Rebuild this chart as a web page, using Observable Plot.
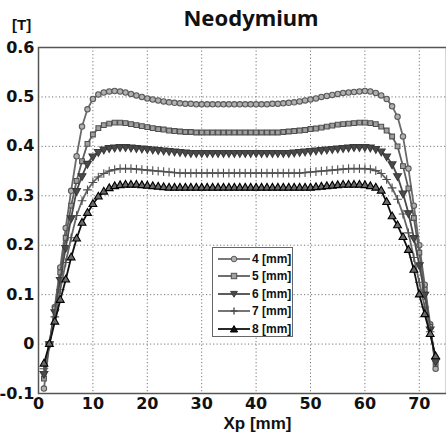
<!DOCTYPE html>
<html><head><meta charset="utf-8">
<script src="https://cdn.jsdelivr.net/npm/d3@7"></script>
<script src="https://cdn.jsdelivr.net/npm/@observablehq/plot@0.6"></script>
<style>
body{margin:0;background:#fff;}
#wrap{position:relative;width:446px;height:437px;font-family:"Liberation Sans",Arial,sans-serif;}
#head{position:relative;height:40px;}
#title{position:absolute;left:0;width:502px;top:4px;text-align:center;font-family:"Noto Sans",sans-serif;font-weight:bold;font-size:22px;line-height:26px;color:#111;}
#unit{position:absolute;left:12px;top:16px;font-weight:bold;font-size:15px;color:#111;}
#legend{position:absolute;left:212px;top:247px;width:79px;height:88px;border:1px solid #666;background:#fff;}
.row{position:absolute;left:4px;height:16px;display:flex;align-items:center;font-weight:bold;font-size:12px;color:#111;}
.row svg{margin-right:1px;}
</style></head>
<body>
<div id="wrap">
  <div id="head"><div id="title">Neodymium</div><div id="unit">[T]</div></div>
  <div id="chart"></div>
  <div id="legend"></div>
</div>
<script>
const xp = [1,2,3,4,5,6,7,8,9,10,11,12,13,14,15,16,17,18,19,20,21,22,23,24,25,26,27,28,29,30,31,32,33,34,35,36,37,38,39,40,41,42,43,44,45,46,47,48,49,50,51,52,53,54,55,56,57,58,59,60,61,62,63,64,65,66,67,68,69,70,71,72,73];

const b4 = [-0.09,0.0,0.075,0.155,0.235,0.31,0.38,0.44,0.475,0.496,
0.505,0.509,0.511,0.512,0.511,0.509,0.506,0.503,0.5,0.497,
0.495,0.493,0.491,0.489,0.488,0.487,0.486,0.486,0.485,0.485,
0.485,0.485,0.485,0.485,0.485,0.485,0.485,0.485,0.485,0.485,
0.485,0.485,0.486,0.486,0.487,0.488,0.489,0.491,0.493,0.495,
0.497,0.5,0.502,0.504,0.506,0.508,0.509,0.51,0.511,0.512,
0.511,0.508,0.503,0.496,0.481,0.46,0.42,0.355,0.28,0.2,
0.12,0.04,-0.05];

const b5 = [-0.07,0.0,0.072,0.145,0.215,0.28,0.33,0.37,0.405,0.424,
0.437,0.443,0.446,0.448,0.448,0.447,0.445,0.443,0.441,0.439,
0.437,0.435,0.434,0.432,0.431,0.43,0.429,0.429,0.428,0.428,
0.428,0.428,0.428,0.428,0.428,0.428,0.428,0.428,0.428,0.428,
0.428,0.428,0.428,0.428,0.429,0.43,0.431,0.432,0.433,0.435,
0.436,0.438,0.44,0.442,0.444,0.445,0.446,0.447,0.448,0.448,
0.447,0.445,0.44,0.432,0.42,0.4,0.36,0.315,0.255,0.185,
0.11,0.035,-0.04];

const b6 = [-0.06,0.0,0.065,0.13,0.195,0.255,0.31,0.34,0.365,0.38,
0.389,0.394,0.397,0.398,0.399,0.399,0.398,0.397,0.396,0.395,
0.394,0.393,0.392,0.391,0.39,0.389,0.388,0.387,0.387,0.387,
0.387,0.387,0.387,0.387,0.387,0.387,0.387,0.387,0.387,0.387,
0.387,0.387,0.387,0.387,0.387,0.387,0.388,0.389,0.39,0.391,
0.392,0.393,0.394,0.395,0.396,0.397,0.398,0.399,0.399,0.399,
0.398,0.395,0.39,0.38,0.364,0.34,0.305,0.265,0.215,0.16,
0.1,0.03,-0.035];

const b7 = [-0.05,0.0,0.055,0.11,0.165,0.215,0.26,0.29,0.312,0.327,
0.338,0.345,0.35,0.353,0.355,0.355,0.355,0.354,0.353,0.352,
0.351,0.35,0.349,0.348,0.347,0.346,0.346,0.346,0.346,0.346,
0.346,0.346,0.346,0.346,0.346,0.346,0.346,0.346,0.346,0.346,
0.346,0.346,0.346,0.346,0.346,0.346,0.346,0.346,0.347,0.348,
0.349,0.35,0.351,0.352,0.353,0.354,0.355,0.355,0.355,0.355,
0.354,0.351,0.345,0.333,0.316,0.293,0.263,0.225,0.175,0.125,
0.075,0.025,-0.03];

const b8 = [-0.04,0.0,0.045,0.089,0.13,0.175,0.213,0.245,0.265,0.283,
0.298,0.308,0.315,0.319,0.321,0.322,0.322,0.322,0.321,0.32,
0.319,0.318,0.317,0.316,0.316,0.316,0.316,0.316,0.316,0.316,
0.316,0.316,0.316,0.316,0.316,0.316,0.316,0.316,0.316,0.316,
0.316,0.316,0.316,0.316,0.316,0.316,0.316,0.316,0.316,0.316,
0.317,0.318,0.319,0.32,0.321,0.322,0.322,0.322,0.322,0.321,
0.319,0.316,0.31,0.287,0.258,0.24,0.216,0.19,0.15,0.1,
0.06,0.02,-0.025];

const seriesNames = ["4 [mm]","5 [mm]","6 [mm]","7 [mm]","8 [mm]"];
const xTicks = [0,10,20,30,40,50,60,70];
const yTicks = [-0.1,0,0.1,0.2,0.3,0.4,0.5,0.6];
const yTickLabels = ["-0.1","0","0.1","0.2","0.3","0.4","0.5","0.6"];

const downTriangle = {draw(ctx, size){
  const y = Math.sqrt(size / (3 * Math.sqrt(3)));
  ctx.moveTo(0, 2*y); ctx.lineTo(-Math.sqrt(3)*y, -y); ctx.lineTo(Math.sqrt(3)*y, -y); ctx.closePath();
}};

const styles = [
  {line:"#6a6a6a", symbol:"circle",   fill:"#b0b0b0", stroke:"#5a5a5a", r:2.7},
  {line:"#5e5e5e", symbol:"square",   fill:"#a0a0a0", stroke:"#505050", r:2.7},
  {line:"#4a4a4a", symbol:downTriangle, fill:"#4a4a4a", stroke:"#3a3a3a", r:2.9},
  {line:"#666666", symbol:"plus",     fill:"none",    stroke:"#505050", r:2.9},
  {line:"#111111", symbol:"triangle", fill:"#6a6a6a", stroke:"#000000", r:2.9}
];

const allSeries = [b4,b5,b6,b7,b8];
const tables = allSeries.map((ys, k) => xp.map((x, i) => ({x, y: ys[i], s: seriesNames[k]})));

const tickFont = "'DejaVu Sans', sans-serif";
const marks = [
  Plot.gridX(xTicks, {stroke:"#777", strokeOpacity:1, strokeDasharray:"1.2,2.3", strokeWidth:1}),
  Plot.gridY(yTicks, {stroke:"#777", strokeOpacity:1, strokeDasharray:"1.2,2.3", strokeWidth:1}),
];
tables.forEach((t, k) => {
  const st = styles[k];
  marks.push(Plot.line(t, {x:"x", y:"y", stroke:st.line, strokeWidth:1.8}));
  marks.push(Plot.dot(t, {x:"x", y:"y", symbol:()=>st.symbol, r:st.r, fill:st.fill, stroke:st.stroke, strokeWidth:1.1}));
});
marks.push(Plot.frame({stroke:"#555", strokeWidth:1.5}));
marks.push(Plot.axisX(xTicks, {tickSize:0, tickPadding:4, fontSize:16, fontFamily:tickFont, fontWeight:"bold", label:null, tickFormat:d=>String(d)}));
marks.push(Plot.axisY(yTicks, {tickSize:0, tickPadding:4, fontSize:16, fontFamily:tickFont, fontWeight:"bold", label:null, tickFormat:(d)=>yTickLabels[yTicks.indexOf(d)]}));
marks.push(Plot.text(["Xp [mm]"], {frameAnchor:"bottom", dy:35, fontSize:17, fontFamily:"'Liberation Sans', Arial, sans-serif", fontWeight:"bold", fill:"#111", dx:15}));

const chart = Plot.plot({
  width:446, height:397,
  marginLeft:38, marginRight:0, marginTop:7, marginBottom:44,
  x:{domain:[0,75]},
  y:{domain:[-0.1,0.6]},
  style:{fontFamily:tickFont, fontSize:"16px", fontWeight:"bold", color:"#111", background:"#fff", overflow:"visible"},
  marks
});
document.getElementById("chart").appendChild(chart);

// legend
const leg = document.getElementById("legend");
const symPaths = [
  (c)=>`<circle cx="17" cy="6" r="2.8" fill="${c.fill}" stroke="${c.stroke}"/>`,
  (c)=>`<rect x="14.3" y="3.3" width="5.4" height="5.4" fill="${c.fill}" stroke="${c.stroke}"/>`,
  (c)=>`<path d="M17,9.2 L13.6,3.4 L20.4,3.4Z" fill="${c.fill}" stroke="${c.stroke}"/>`,
  (c)=>`<path d="M17,2.6 V9.4 M13.6,6 H20.4" stroke="${c.stroke}" stroke-width="1.4"/>`,
  (c)=>`<path d="M17,2.6 L20.6,9 L13.4,9Z" fill="#111" stroke="#000"/>`
];
seriesNames.forEach((name, k) => {
  const st = styles[k];
  const row = document.createElement("div");
  row.className = "row";
  row.style.top = (3 + k*17.4) + "px";
  row.innerHTML = `<svg width="34" height="12"><line x1="1" y1="6" x2="33" y2="6" stroke="${st.line}" stroke-width="1.8"/>${symPaths[k](st)}</svg><span>${name}</span>`;
  leg.appendChild(row);
});
</script>
</body></html>
